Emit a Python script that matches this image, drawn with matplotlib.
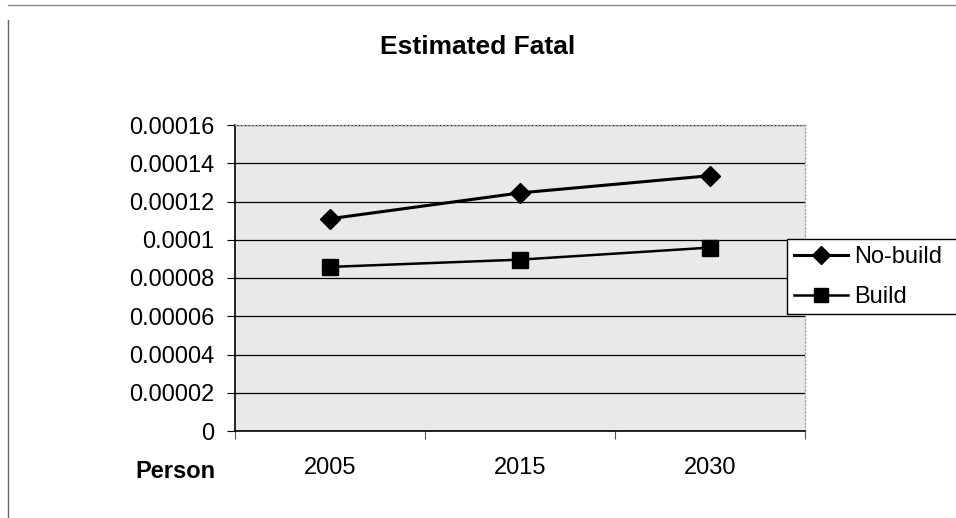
import matplotlib
matplotlib.use('Agg')
import matplotlib.pyplot as plt
from matplotlib.lines import Line2D
from matplotlib.patches import Rectangle

plt.rcParams['font.family'] = ['Liberation Sans', 'DejaVu Sans']

years = ['2005', '2015', '2030']
no_build = [0.000111, 0.0001245, 0.0001335]
build = [0.0000858, 0.0000896, 0.0000959]
y_ticks = [0, 0.00002, 0.00004, 0.00006, 0.00008, 0.0001, 0.00012, 0.00014, 0.00016]
y_tick_labels = ['0', '0.00002', '0.00004', '0.00006', '0.00008', '0.0001',
                 '0.00012', '0.00014', '0.00016']

W, H = 956, 518
fig = plt.figure(figsize=(W / 100, H / 100), dpi=100)

# plot area in pixel coords: x 235..805, y 125..431
ax = fig.add_axes([235 / W, (H - 431) / H, 570 / W, (431 - 125) / H])
ax.set_facecolor('#e9e9e9')

x = list(range(len(years)))
ax.plot(x, no_build, color='black', lw=2.2, marker='D', ms=10, label='No-build', zorder=3)
ax.plot(x, build, color='black', lw=1.8, marker='s', ms=11, label='Build', zorder=3)

ax.set_ylim(0, 0.00016)
ax.set_yticks(y_ticks)
ax.set_yticklabels(y_tick_labels)
ax.yaxis.grid(True, color='black', lw=0.9)
ax.set_axisbelow(True)

ax.set_xlim(-0.5, len(years) - 0.5)
ax.set_xticks([i - 0.5 for i in range(len(years) + 1)])
ax.set_xticklabels([])
ax.set_xticks(x, minor=True)
ax.set_xticklabels(years, minor=True)
ax.tick_params(axis='x', which='major', direction='out', length=6, color='#555555')
ax.tick_params(axis='x', which='minor', length=0, pad=19, labelsize=17)
ax.tick_params(axis='y', direction='out', length=6, pad=9, labelsize=17)

for s in ['left', 'bottom']:
    ax.spines[s].set_color('black')
    ax.spines[s].set_linewidth(1.2)
for s in ['top', 'right']:
    ax.spines[s].set_color('#aaaaaa')
    ax.spines[s].set_linestyle(':')
    ax.spines[s].set_linewidth(1.0)

fig.text(478 / W, 1 - 47 / H, 'Estimated Fatal', ha='center', va='center',
         fontsize=19, fontweight='bold')
fig.text(175 / W, 1 - 472 / H, 'Person', ha='center', va='center',
         fontsize=17, fontweight='bold')

# legend box runs off the right edge of the picture
fig.add_artist(Rectangle((787 / W, 1 - 314 / H), 200 / W, 75 / H,
                         transform=fig.transFigure, facecolor='white',
                         edgecolor='black', lw=1.0, zorder=4))
leg = fig.legend(loc='upper left', bbox_to_anchor=(787 / W, 1 - 239 / H),
                 fontsize=17, frameon=False, handlelength=2.3,
                 handletextpad=0.25, borderpad=0.3, labelspacing=0.75,
                 borderaxespad=0, markerscale=0.9)
leg.set_zorder(5)

# outer chart border (top and left)
fig.add_artist(Line2D([8 / W, 1], [1 - 5 / H, 1 - 5 / H], color='#888888', lw=1.0))
fig.add_artist(Line2D([8 / W, 8 / W], [0, 1 - 20 / H], color='#666666', lw=1.0))

fig.savefig('out.png', dpi=100)
